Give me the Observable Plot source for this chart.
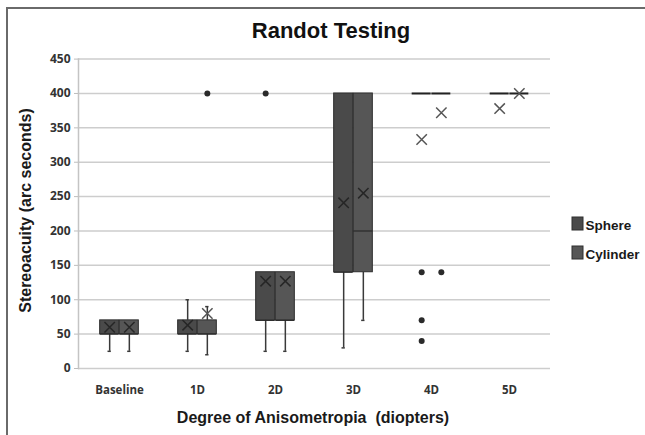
<!DOCTYPE html>
<html><head><meta charset="utf-8">
<script src="https://cdn.jsdelivr.net/npm/d3@7"></script>
<script src="https://cdn.jsdelivr.net/npm/@observablehq/plot@0.6"></script>
<style>
body{margin:0;background:#fff}
#wrap{width:645px;height:435px;overflow:hidden}
</style>
</head><body><div id="wrap"></div>
<script>
// ---- data ----
const categories = ["Baseline", "1D", "2D", "3D", "4D", "5D"];
const series = ["Sphere", "Cylinder"];
const yTicks = [0, 50, 100, 150, 200, 250, 300, 350, 400, 450];

const sphereMin    = [25, 25, 25, 30, 400, 400];
const sphereQ1     = [50, 50, 70, 140, 400, 400];
const sphereMedian = [50, 50, 70, 140, 400, 400];
const sphereQ3     = [70, 70, 140, 400, 400, 400];
const sphereMax    = [70, 100, 140, 400, 400, 400];
const sphereMean   = [60, 63, 127, 241, 333, 378];

const cylinderMin    = [25, 20, 25, 70, 400, 400];
const cylinderQ1     = [50, 50, 70, 140, 400, 400];
const cylinderMedian = [50, 50, 70, 200, 400, 400];
const cylinderQ3     = [70, 70, 140, 400, 400, 400];
const cylinderMax    = [70, 90, 140, 400, 400, 400];
const cylinderMean   = [60, 80, 127, 255, 372, 400];

const outlierCategory = ["2D", "4D", "4D", "4D", "1D", "4D"];
const outlierSeries   = ["Sphere", "Sphere", "Sphere", "Sphere", "Cylinder", "Cylinder"];
const outlierValue    = [400, 140, 70, 40, 400, 140];

const seriesFill = {Sphere: "#4a4a4a", Cylinder: "#565656"};

// ---- tables built from the arrays ----
const sphereRows = categories.map((c, i) => ({category: c, series: "Sphere", min: sphereMin[i], q1: sphereQ1[i], median: sphereMedian[i], q3: sphereQ3[i], max: sphereMax[i], mean: sphereMean[i]}));
const cylinderRows = categories.map((c, i) => ({category: c, series: "Cylinder", min: cylinderMin[i], q1: cylinderQ1[i], median: cylinderMedian[i], q3: cylinderQ3[i], max: cylinderMax[i], mean: cylinderMean[i]}));
const outliers = outlierValue.map((v, i) => ({category: outlierCategory[i], series: outlierSeries[i], value: v}));

// ---- geometry ----
const W = 645, H = 435;
const mL = 78, mR = 95, mT = 58.6, mB = 67;
const band = (W - mL - mR) / categories.length;
const half = band / 2;
const boxW = band / 4;
const off = boxW / 2;
const capHalf = 2;

const inBox = d => d.q3 > d.q1 && d.mean > d.q1 && d.mean < d.q3;
const collapsed = d => d.q3 === d.q1;

function seriesMarks(rows, sign) {
  const s = rows[0].series;
  const boxInL = sign < 0 ? half - boxW : half;
  const boxInR = sign < 0 ? half : half - boxW;
  const capIn = half - capHalf;
  return [
    Plot.ruleX(rows.filter(d => d.min < d.q1), {x: "category", y1: "min", y2: "q1", dx: sign * off, stroke: "#3a3a3a", strokeWidth: 1.5}),
    Plot.ruleX(rows.filter(d => d.max > d.q3), {x: "category", y1: "q3", y2: "max", dx: sign * off, stroke: "#3a3a3a", strokeWidth: 1.5}),
    Plot.tickY(rows.filter(d => d.min < d.q1), {x: "category", y: "min", dx: sign * off, insetLeft: capIn, insetRight: capIn, stroke: "#3a3a3a", strokeWidth: 1.5}),
    Plot.tickY(rows.filter(d => d.max > d.q3), {x: "category", y: "max", dx: sign * off, insetLeft: capIn, insetRight: capIn, stroke: "#3a3a3a", strokeWidth: 1.5}),
    Plot.rectY(rows.filter(d => !collapsed(d)), {x: "category", y1: "q1", y2: "q3", insetLeft: boxInL, insetRight: boxInR, fill: seriesFill[s], stroke: "#2e2e2e", strokeWidth: 1}),
    Plot.tickY(rows.filter(d => !collapsed(d)), {x: "category", y: "median", insetLeft: boxInL, insetRight: boxInR, stroke: "#2a2a2a", strokeWidth: 1.2}),
    Plot.tickY(rows.filter(collapsed), {x: "category", y: "median", insetLeft: boxInL, insetRight: boxInR, stroke: "#222", strokeWidth: 2}),
    Plot.dot(rows.filter(inBox), {x: "category", y: "mean", dx: sign * off, symbol: "times", r: 4.8, stroke: "#262626", strokeWidth: 1.5}),
    Plot.dot(rows.filter(d => !inBox(d)), {x: "category", y: "mean", dx: sign * off, symbol: "times", r: 4.8, stroke: "#555", strokeWidth: 1.5}),
    Plot.dot(outliers.filter(d => d.series === s), {x: "category", y: "value", dx: sign * off, r: 3, fill: "#2a2a2a", stroke: "none"})
  ];
}

const svg = Plot.plot({
  width: W, height: H,
  marginLeft: mL, marginRight: mR, marginTop: mT, marginBottom: mB,
  style: {background: "#fff", overflow: "visible"},
  x: {domain: categories, padding: 0},
  y: {domain: [0, 450]},
  marks: [
    Plot.gridY(yTicks, {stroke: "#cdcdcd", strokeOpacity: 1, strokeWidth: 1.5}),
    Plot.frame({anchor: "left", stroke: "#c4c4c4", strokeWidth: 1.5}),
    Plot.axisY(yTicks, {tickSize: 4, tickPadding: 4, stroke: "#bdbdbd", fill: "#333", fontSize: 12, fontWeight: "bold", fontFamily: "Open Sans", label: null}),
    Plot.axisX({tickSize: 0, tickPadding: 17, fill: "#333", fontSize: 11.5, fontWeight: "bold", fontFamily: "Open Sans", label: null}),
    ...seriesMarks(sphereRows, -1),
    ...seriesMarks(cylinderRows, 1)
  ]
});

document.getElementById("wrap").appendChild(svg);

// ---- decorations: frame border, titles, legend ----
const s = d3.select(svg);
s.append("line").attr("x1", 7).attr("y1", 8).attr("x2", 7).attr("y2", H).attr("stroke", "#6a6a6a").attr("stroke-width", 2);
s.append("line").attr("x1", 6).attr("y1", 8).attr("x2", W).attr("y2", 8).attr("stroke", "#6a6a6a").attr("stroke-width", 2);

const font = "'Liberation Sans', Arial, sans-serif";
s.append("text").text("Randot Testing")
  .attr("x", 331).attr("y", 38).attr("text-anchor", "middle")
  .attr("font-family", font).attr("font-weight", "bold").attr("font-size", 22).attr("fill", "#111");
s.append("text").text("Degree of Anisometropia\u00a0\u00a0(diopters)")
  .attr("x", 313).attr("y", 423).attr("text-anchor", "middle")
  .attr("font-family", font).attr("font-weight", "bold").attr("font-size", 16).attr("fill", "#1a1a1a");
s.append("text").text("Stereoacuity (arc seconds)")
  .attr("transform", "translate(31,210.5) rotate(-90)").attr("text-anchor", "middle")
  .attr("font-family", font).attr("font-weight", "bold").attr("font-size", 16).attr("fill", "#1a1a1a");

series.forEach((name, i) => {
  const y0 = 217 + i * 29;
  s.append("rect").attr("x", 572).attr("y", y0).attr("width", 11).attr("height", 13)
    .attr("fill", seriesFill[name]).attr("stroke", "#2e2e2e");
  s.append("text").text(name).attr("x", 585.5).attr("y", y0 + 12.5).attr("text-anchor", "start")
    .attr("font-family", font).attr("font-weight", "bold").attr("font-size", 13.5).attr("fill", "#1a1a1a");
});
</script>
</body></html>
